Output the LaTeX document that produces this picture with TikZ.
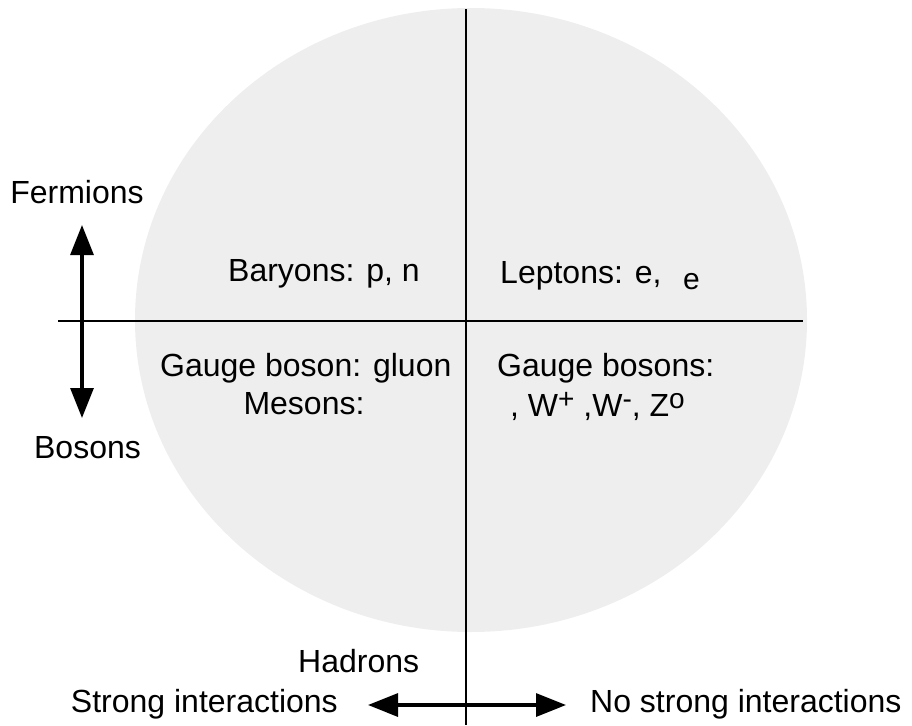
\documentclass[tikz,border=0pt]{standalone}
\usepackage{fontspec}
\setmainfont{Liberation Sans}
\usetikzlibrary{arrows.meta}
\definecolor{disc}{HTML}{EEEEEE}
\tikzset{
  lbl/.style={inner sep=0pt, font=\fontsize{32}{36}\selectfont},
  axis/.style={line width=2pt, black},
  dbl/.style={line width=3.2pt, black, {Triangle[length=30pt,width=23pt]}-{Triangle[length=30pt,width=23pt]}}
}
\newcommand{\supx}[1]{\raisebox{0.22em}{\fontsize{28}{28}\selectfont #1}}
\begin{document}
\begin{tikzpicture}[x=1pt,y=-1pt]
\useasboundingbox (0,0) rectangle (912,725);
\fill[disc] (471,320) ellipse [x radius=336, y radius=312];
% axes
\coordinate (vtop) at (466,9);
\coordinate (vbot) at (466,725);
\coordinate (hleft) at (58,321);
\coordinate (hright) at (803,321);
\draw[axis] (vtop) -- (vbot);
\draw[axis] (hleft) -- (hright);
% vertical double arrow
\coordinate (ftip) at (82,225);
\coordinate (btip) at (82,418);
\draw[dbl] (ftip) -- (btip);
% horizontal double arrow
\coordinate (stip) at (368,705);
\coordinate (ntip) at (566,705);
\draw[dbl] (stip) -- (ntip);
% labels
\node[lbl, anchor=base] (ferm) at (77,203) {Fermions};
\node[lbl, anchor=base] (bos) at (87.5,458) {Bosons};
\node[lbl, anchor=base west] (bary) at (228,281) {Baryons: p, n};
\node[lbl, anchor=base west] (lept) at (500,283) {Leptons: e,};
\node[lbl, anchor=base west, font=\fontsize{30}{32}\selectfont] (lepe) at (683,289) {e};
\node[lbl, anchor=base west] (gluon) at (160,376) {Gauge boson: gluon};
\node[lbl, anchor=base] (mes) at (304,414) {Mesons:};
\node[lbl, anchor=base west] (gb) at (497,376) {Gauge bosons:};
\node[lbl, anchor=base west] (wz) at (510,416) {, W\supx{+} ,W\supx{-}, Z\supx{o}};
\node[lbl, anchor=base west] (had) at (298,672) {Hadrons};
\node[lbl, anchor=base east] (strong) at (338,712) {Strong interactions};
\node[lbl, anchor=base west] (nostrong) at (590,712) {No strong interactions};
\end{tikzpicture}
\end{document}
